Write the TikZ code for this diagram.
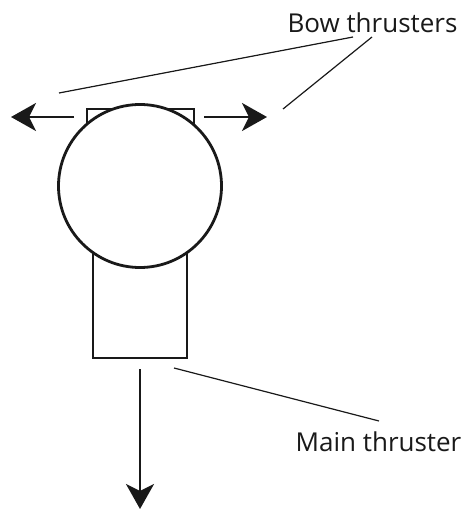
\documentclass[tikz,border=0pt]{standalone}
\usepackage{fontspec}
\setmainfont{Open Sans}
\usetikzlibrary{arrows.meta}
\tikzset{
 shp/.style={draw=black!90,line width=2.8pt,fill=white},
 leader/.style={draw=black!90,line width=1.2pt},
 thrust/.style={draw=black!90,line width=2.8pt,-{Stealth[length=25pt,width=28pt,inset=7pt]}},
 lab/.style={font=\fontsize{26}{28}\selectfont,inner sep=0pt,text=black!90}
}
\begin{document}
\begin{tikzpicture}[x=1pt,y=-1pt]
\useasboundingbox (0,0) rectangle (461,510);
\node[lab] (bow) at (372.5,23) {Bow thrusters};
\node[lab] (main) at (378.5,442) {Main thruster};
\node[shp,minimum width=107pt,minimum height=30pt,inner sep=0pt] (top) at (140.5,124) {};
\node[shp,minimum width=94pt,minimum height=120pt,inner sep=0pt] (body) at (140,298) {};
\node[shp,circle,minimum size=163pt,inner sep=0pt] (hull) at (140,186) {};
\coordinate (la) at (74,117); \coordinate (lb) at (11,117);
\coordinate (ra) at (204,117); \coordinate (rb) at (267,117);
\coordinate (da) at (140,369); \coordinate (db) at (140,509);
\draw[thrust] (la) -- (lb);
\draw[thrust] (ra) -- (rb);
\draw[thrust] (da) -- (db);
\coordinate (l1) at (59,93); \coordinate (l1e) at (353,37);
\coordinate (l2) at (283,109); \coordinate (l2e) at (372,37);
\coordinate (l3) at (174,368); \coordinate (l3e) at (379,421);
\draw[leader] (l1) -- (l1e);
\draw[leader] (l2) -- (l2e);
\draw[leader] (l3) -- (l3e);
\end{tikzpicture}
\end{document}
